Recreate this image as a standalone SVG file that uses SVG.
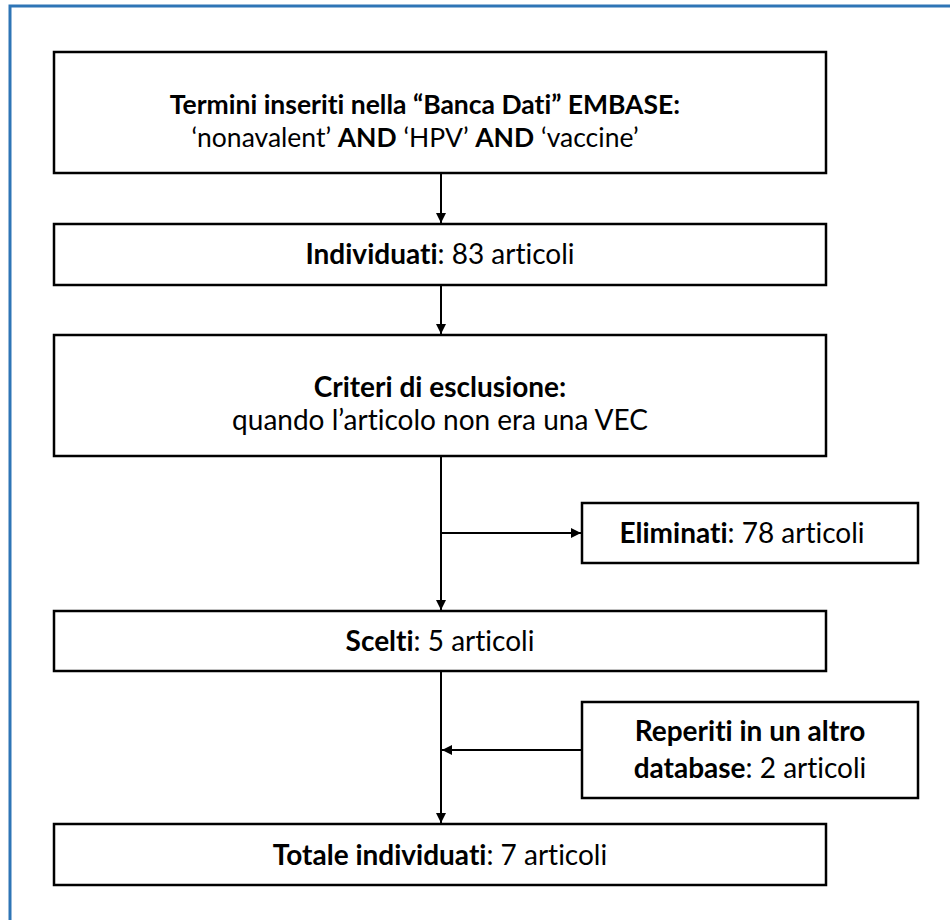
<svg xmlns="http://www.w3.org/2000/svg" width="950" height="920" viewBox="0 0 950 920">
<defs>
<style>
.box{fill:#fff;stroke:#000;stroke-width:2.5}
.t{font-family:Lato,"Open Sans","Liberation Sans",sans-serif;font-size:28px;fill:#000;text-anchor:middle;font-variant-ligatures:none;font-feature-settings:"liga" 0}
.b{font-weight:bold}
.c{fill:none;stroke:#000;stroke-width:2}
</style>
<marker id="ah" viewBox="0 0 10 10" refX="10" refY="5" markerWidth="5" markerHeight="5" orient="auto" markerUnits="strokeWidth">
<path d="M0,0 L10,5 L0,10 z" fill="#000"/>
</marker>
</defs>
<rect x="0" y="0" width="950" height="920" fill="#fff"/>
<rect x="10" y="6" width="960" height="940" fill="none" stroke="#2E75B6" stroke-width="3"/>
<g id="connectors">
<line class="c" x1="441" y1="173" x2="441" y2="223" marker-end="url(#ah)"/>
<line class="c" x1="441" y1="285" x2="441" y2="334" marker-end="url(#ah)"/>
<line class="c" x1="441" y1="456" x2="441" y2="610" marker-end="url(#ah)"/>
<line class="c" x1="441" y1="533" x2="581" y2="533" marker-end="url(#ah)"/>
<line class="c" x1="441" y1="671" x2="441" y2="823" marker-end="url(#ah)"/>
<line class="c" x1="582" y1="750" x2="442" y2="750" marker-end="url(#ah)"/>
</g>
<g id="n1">
<rect class="box" x="54" y="52" width="772" height="121"/>
<text class="t b" x="425" y="114" style="font-size:26.5px">Termini inseriti nella “Banca Dati” EMBASE:</text>
<text class="t" x="415" y="147" style="font-size:26.5px">‘nonavalent’ <tspan class="b">AND</tspan> ‘HPV’ <tspan class="b">AND</tspan> ‘vaccine’</text>
</g>
<g id="n2">
<rect class="box" x="54" y="224" width="772" height="61"/>
<text class="t" x="440" y="264"><tspan class="b">Individuati</tspan>: 83 articoli</text>
</g>
<g id="n3">
<rect class="box" x="54" y="335" width="772" height="121"/>
<text class="t b" x="440" y="397">Criteri di esclusione:</text>
<text class="t" x="440" y="430">quando l’articolo non era una VEC</text>
</g>
<g id="n4">
<rect class="box" x="582" y="503" width="336" height="60"/>
<text class="t" x="742" y="543"><tspan class="b">Eliminati</tspan>: 78 articoli</text>
</g>
<g id="n5">
<rect class="box" x="54" y="611" width="772" height="60"/>
<text class="t" x="440" y="651"><tspan class="b">Scelti</tspan>: 5 articoli</text>
</g>
<g id="n6">
<rect class="box" x="582" y="702" width="336" height="96"/>
<text class="t b" x="750" y="741">Reperiti in un altro</text>
<text class="t" x="750" y="778"><tspan class="b">database</tspan>: 2 articoli</text>
</g>
<g id="n7">
<rect class="box" x="54" y="824" width="772" height="61"/>
<text class="t" x="440" y="865"><tspan class="b">Totale individuati</tspan>: 7 articoli</text>
</g>
</svg>
